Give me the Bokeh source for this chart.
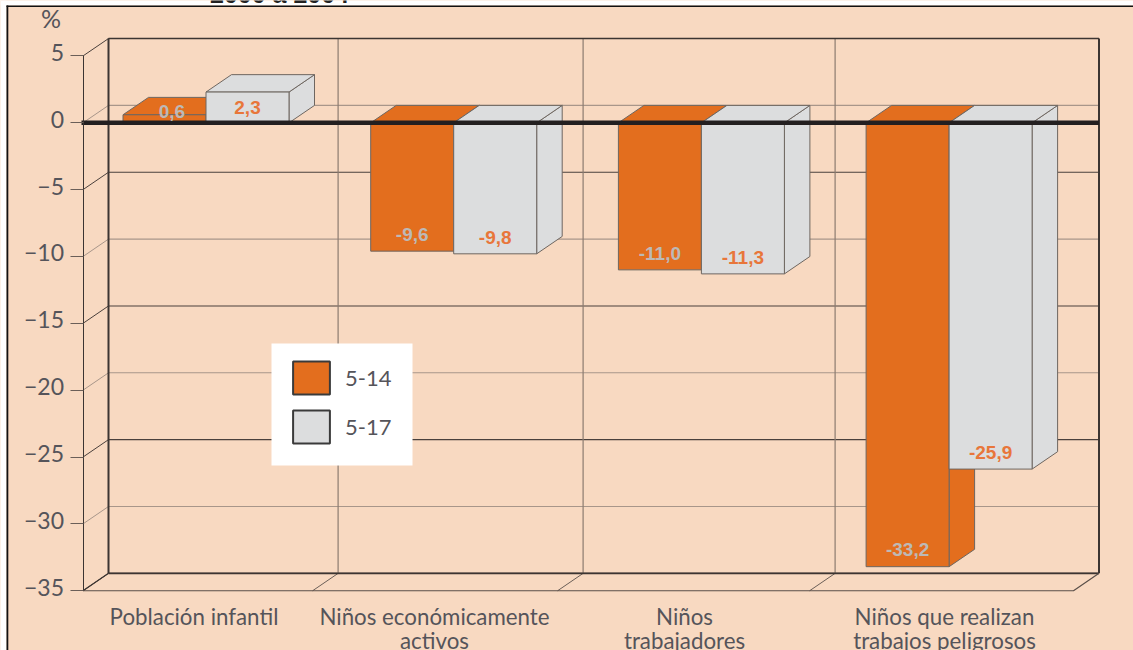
from bokeh.plotting import figure
from bokeh.models import Range1d, FixedTicker, Legend, LegendItem, LinearAxis
from bokeh.core.properties import value
from bokeh.embed import file_html
from bokeh.resources import INLINE

# ---- data
categories = ["Población infantil", "Niños económicamente\nactivos", "Niños\ntrabajadores", "Niños que realizan\ntrabajos peligrosos"]
series_names = ["5-14", "5-17"]
values_5_14 = [0.6, -9.6, -11.0, -33.2]
values_5_17 = [2.3, -9.8, -11.3, -25.9]
labels_5_14 = ["0,6", "-9,6", "-11,0", "-33,2"]
labels_5_17 = ["2,3", "-9,8", "-11,3", "-25,9"]
y_ticks = [5, 0, -5, -10, -15, -20, -25, -30, -35]
y_tick_labels = ["5", "0", "\u22125", "\u221210", "\u221215", "\u221220", "\u221225", "\u221230", "\u221235"]
axis_unit = "%"
cut_title = "2000 a 2004"

# ---- layout: page pixels -> the two scales
W, H = 1133, 650
ZERO_PX, UNIT_PX = 122.3, 13.37
CAT0_PX, CAT_PX = 205.5, 247.7


def X(px):
    return (px - CAT0_PX) / CAT_PX


def Y(py):
    return (ZERO_PX - py) / UNIT_PX


DX, DY = 25.5 / CAT_PX, 17.4 / UNIT_PX      # depth of the 3D box
BAR_W = 83 / CAT_PX
WALL_LEFT, WALL_RIGHT = X(82.5), X(1073)
DIVIDERS = [X(337.6), X(582.6), X(834.6)]
LABEL_CENTERS = [X(193.5), X(434), X(684), X(944)]
LABEL_TOP = Y(602)
Y_MIN, Y_MAX = y_ticks[-1], y_ticks[0]
LABEL_RAISE = 3.5 / UNIT_PX   # tick labels sit above their ticks

PEACH, ORANGE, GREY = "#F8D9C1", "#E36E1E", "#DCDDDE"
INK, TEXT = "#3C3532", "#55545A"
GRID_DARK, GRID_LIGHT = "#4A403C", "#A8968A"
FONT = "Lato"
NUM_FONT = "Liberation Sans"

p = figure(
    width=W, height=H, output_backend="svg", toolbar_location=None,
    x_range=Range1d(X(0), X(W)), y_range=Range1d(Y(H), Y(0)),
    min_border_left=0, min_border_right=0, min_border_top=0, min_border_bottom=0,
    background_fill_color=PEACH, border_fill_color=PEACH,
    styles={"position": "absolute", "left": "0px", "top": "0px"},
)
p.outline_line_color = None
p.grid.visible = False
p.xaxis.visible = False

# axis with the tick marks
yaxis = p.yaxis[0]
yaxis.fixed_location = WALL_LEFT
yaxis.ticker = FixedTicker(ticks=y_ticks)
yaxis.major_label_text_font_size = "0px"
yaxis.major_label_overrides = {t: "" for t in y_ticks}
yaxis.bounds = (Y_MIN, Y_MAX)
yaxis.major_tick_in = 0
yaxis.major_tick_out = 13
yaxis.minor_tick_out = 0
yaxis.minor_tick_in = 0
yaxis.major_tick_line_color = "#6B5F58"
yaxis.axis_line_color = INK

# axis with the numbers
label_ticks = [round(t + LABEL_RAISE, 4) for t in y_ticks]
label_axis = LinearAxis(
    fixed_location=WALL_LEFT,
    ticker=FixedTicker(ticks=label_ticks),
    major_label_overrides=dict(zip(label_ticks, y_tick_labels)),
    axis_line_color=None, major_tick_line_color=None, minor_tick_line_color=None,
    major_tick_in=0, major_tick_out=13, major_label_standoff=6,
    major_label_text_font=FONT, major_label_text_font_size="23px", major_label_text_color=TEXT,
)
p.add_layout(label_axis, "left")

# page edge: white strip, black frame
p.quad(left=[X(0), X(0), X(6), X(6)], right=[X(W), X(6), X(W), X(7.8)],
       top=[Y(0), Y(0), Y(5), Y(5)], bottom=[Y(5), Y(H), Y(6.5), Y(H)],
       fill_color=["#FFFFFF", "#FFFFFF", "#111111", "#111111"], line_color=None, level="underlay")

# back wall and left wall lines
back_left, back_right = WALL_LEFT + DX, WALL_RIGHT + DX
grid_cols = [GRID_DARK if i % 2 == 0 else GRID_LIGHT for i in range(len(y_ticks))]
p.multi_line([[back_left, back_right] for _ in y_ticks], [[t + DY, t + DY] for t in y_ticks],
             line_color=grid_cols, line_width=1.1)
p.multi_line([[WALL_LEFT, back_left] for _ in y_ticks], [[t, t + DY] for t in y_ticks],
             line_color=grid_cols, line_width=1)
p.multi_line([[d, d] for d in DIVIDERS], [[Y_MIN + DY, Y_MAX + DY] for _ in DIVIDERS],
             line_color="#8C7B70", line_width=1.2)
p.multi_line([[d, d - DX] for d in DIVIDERS], [[Y_MIN + DY, Y_MIN] for _ in DIVIDERS],
             line_color="#6B5F58", line_width=1)
# box outline
p.line([back_left, back_left], [Y_MIN + DY, Y_MAX + DY], line_color=INK, line_width=2)
p.line([back_right, back_right], [Y_MIN + DY, Y_MAX + DY], line_color=INK, line_width=2)
p.line([back_left, back_right], [Y_MIN + DY, Y_MIN + DY], line_color=INK, line_width=1.6)
p.line([back_left, back_right], [Y_MAX + DY, Y_MAX + DY], line_color=INK, line_width=1.4)
p.line([WALL_LEFT, WALL_RIGHT, back_right], [Y_MIN, Y_MIN, Y_MIN + DY], line_color="#5A4F49", line_width=1.2)
p.line([WALL_LEFT, back_left], [Y_MIN, Y_MIN + DY], line_color=INK, line_width=1.2)


def draw_series(vals, offset, fill):
    """Faces of one series: offset is the left edge relative to the category."""
    for i, v in enumerate(vals):
        x0, x1 = i + offset, i + offset + BAR_W
        top = max(v, 0)
        edge = dict(fill_color=fill, line_color="#6E6660", line_width=1)
        p.patch([x1, x1 + DX, x1 + DX, x1], [top, top + DY, v + DY if v < 0 else DY, v if v < 0 else 0], **edge)
        p.patch([x0, x0 + DX, x1 + DX, x1], [top, top + DY, top + DY, top], **edge)
        p.quad(left=x0, right=x1, bottom=min(v, 0), top=top, **edge)


draw_series(values_5_14, -BAR_W, ORANGE)
draw_series(values_5_17, 0, GREY)

# zero line
p.line([X(81), back_right], [0, 0], line_color="#231F20", line_width=4.4)


def value_label_y(v):
    return v + 1.25 if v < 0 else max(v / 2, 0.82)


p.text([i - BAR_W / 2 + (0.03 if i == 0 else 0) for i in range(4)], [value_label_y(v) for v in values_5_14],
       text=labels_5_14, text_font=value(NUM_FONT), text_font_style="bold", text_font_size="19px",
       text_color="#BDB9B6", text_align="center", text_baseline="middle")
p.text([i + BAR_W / 2 for i in range(4)], [value_label_y(v) for v in values_5_17],
       text=labels_5_17, text_font=value(NUM_FONT), text_font_style="bold", text_font_size="19px",
       text_color="#E8763A", text_align="center", text_baseline="middle")

# category labels
p.text(LABEL_CENTERS, [LABEL_TOP] * 4, text=categories, text_font=value(FONT), text_font_size="22.3px",
       text_color=TEXT, text_align="center", text_baseline="top", text_line_height=0.92)

# cut-off title at the very top of the page
p.text([X(279)], [Y(7.5)], text=[cut_title], text_font=value("Liberation Sans"),
       text_font_style="bold", text_font_size="25px", text_color="#222222", text_align="center",
       text_baseline="bottom")

p.text([X(50.5)], [Y(17)], text=[axis_unit], text_font=value(FONT), text_font_size="25px",
       text_color=TEXT, text_align="center", text_baseline="middle")

# legend: white panel behind the library's legend
p.quad(left=[X(271)], right=[X(412)], top=[Y(343)], bottom=[Y(465)], fill_color="#FFFFFF", line_color=None)
dummy = dict(left=[0], right=[0], bottom=[0], top=[0], line_color="#3A3A3A", line_width=2)
r1 = p.quad(fill_color=ORANGE, **dummy)
r2 = p.quad(fill_color=GREY, **dummy)
legend = Legend(items=[LegendItem(label=series_names[0], renderers=[r1]), LegendItem(label=series_names[1], renderers=[r2])],
                location=(288, H - 447), orientation="vertical", margin=0,
                glyph_width=46, glyph_height=41, spacing=8, label_standoff=11, label_width=54,
                label_text_font=FONT, label_text_font_size="22px", label_text_color=TEXT,
                border_line_color=None, background_fill_alpha=0)
p.add_layout(legend)

open("out.html", "w").write(file_html(p, INLINE))
